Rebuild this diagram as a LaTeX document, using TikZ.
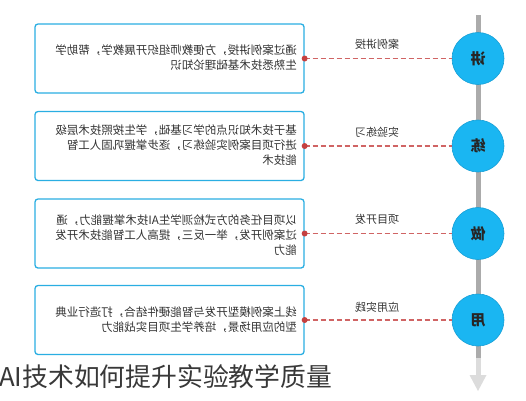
\documentclass[tikz,border=0pt]{standalone}
\usepackage{fontspec}
\usepackage{graphicx}
\newfontfamily\cjk{Noto Sans CJK SC}
\definecolor{circblue}{HTML}{1AB6F2}
\definecolor{circedge}{HTML}{179FD6}
\definecolor{boxedge}{HTML}{2AAEE2}
\definecolor{dashred}{HTML}{D06464}
\definecolor{dotred}{HTML}{C44040}
\definecolor{railgray}{HTML}{ABABAB}
\definecolor{railfade}{HTML}{DCDCDC}
\definecolor{txtgray}{HTML}{333333}
\tikzset{
  infobox/.style={draw=boxedge, line width=1.3pt, rounded corners=3pt, fill=white,
    minimum width=269pt, minimum height=69pt, inner sep=0pt},
  stagecirc/.style={circle, fill=circblue, draw=circedge, line width=0.6pt,
    minimum size=52pt, inner sep=0pt, font=\cjk\bfseries\fontsize{15}{15}\selectfont, text=black!85},
  bodytext/.style={anchor=east, inner sep=0pt, text=txtgray,
    font=\cjk\fontsize{11.5}{15}\selectfont},
  tagtext/.style={inner sep=0pt, text=txtgray, font=\cjk\fontsize{11}{13}\selectfont},
  linkline/.style={draw=dashred, line width=1.3pt, dash pattern=on 5pt off 3pt},
  linkdot/.style={circle, fill=dotred, minimum size=6pt, inner sep=0pt},
}
\newcommand{\mirr}[1]{\reflectbox{\begin{tabular}{@{}l@{}}#1\end{tabular}}}
\begin{document}
\begin{tikzpicture}[x=1pt, y=-1pt]
\useasboundingbox (0,0) rectangle (526,400);
% rail
\draw[railgray, line width=5pt] (478,15) -- (478,358);
\draw[railfade, line width=5pt] (478,358) -- (478,377);
\fill[railfade] (469.5,375) -- (486.5,375) -- (478,391) -- cycle;
% boxes
\node[infobox] (b1) at (169.5,58.5) {};
\node[infobox] (b2) at (169.5,146) {};
\node[infobox] (b3) at (169.5,233.5) {};
\node[infobox] (b4) at (169.5,320) {};
% circles
\node[stagecirc] (c1) at (478,58.5) {\reflectbox{讲}};
\node[stagecirc] (c2) at (478,146) {\reflectbox{练}};
\node[stagecirc] (c3) at (478,233.5) {\reflectbox{做}};
\node[stagecirc] (c4) at (478,320) {\reflectbox{用}};
% connectors
\foreach \i in {1,2,3,4}{
  \draw[linkline] (b\i.east) -- (c\i.west);
  \node[linkdot] (d\i) at (b\i.east) {};
}
% tags
\node[tagtext] (t1) at (377,44) {\reflectbox{案例讲授}};
\node[tagtext] (t2) at (377,132) {\reflectbox{实验练习}};
\node[tagtext] (t3) at (377,219) {\reflectbox{项目开发}};
\node[tagtext] (t4) at (377,307) {\reflectbox{应用实践}};
% body texts
\node[bodytext] (x1) at (297,59) {\mirr{通过案例讲授，方便教师组织开展教学，帮助学\\生熟悉技术基础理论知识}};
\node[bodytext] (x2) at (297,146.5) {\mirr{基于技术知识点的学习基础，学生按照技术层级\\进行项目案例实验练习，逐步掌握巩固人工智\\能技术}};
\node[bodytext] (x3) at (297,236.5) {\mirr{以项目任务的方式检测学生AI技术掌握能力，通\\过案例开发，举一反三，提高人工智能技术开发\\能力}};
\node[bodytext] (x4) at (297,320.5) {\mirr{线上案例模型开发与智能硬件结合，打造行业典\\型的应用场景，培养学生项目实战能力}};
% title
\node[anchor=west, inner sep=0pt, text=black!78, font=\cjk\fontsize{25.8}{28}\selectfont] (title) at (-1,377) {AI技术如何提升实验教学质量};
\end{tikzpicture}
\end{document}
